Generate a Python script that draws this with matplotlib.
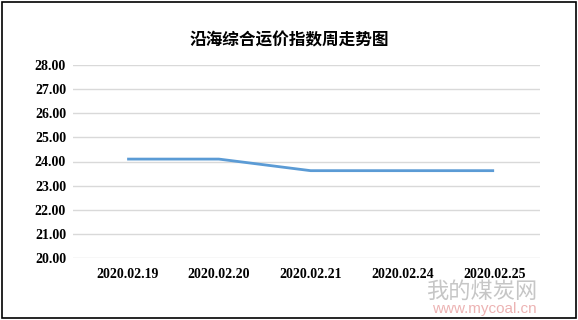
import matplotlib.pyplot as plt
from matplotlib.patches import Rectangle

plt.rcParams['font.family'] = ['Noto Sans CJK SC', 'DejaVu Sans']

dates = ["2020.02.19", "2020.02.20", "2020.02.21", "2020.02.24", "2020.02.25"]
index_values = [24.10, 24.10, 23.62, 23.62, 23.62]
y_ticks = [20, 21, 22, 23, 24, 25, 26, 27, 28]

fig = plt.figure(figsize=(5.78, 3.2), dpi=100)
ax = fig.add_axes([73 / 578, 1 - 258 / 320, (540 - 73) / 578, (258 - 65) / 320])

x = list(range(len(dates)))
ax.plot(x, index_values, color="#5B9BD5", linewidth=2.0, solid_capstyle="butt")

ax.set_xlim(-0.59, 4.5)
ax.set_ylim(20, 28)
ax.set_yticks(y_ticks)
ax.set_yticklabels([f"{v:.2f}" for v in y_ticks], fontsize=10, fontweight="bold",
                   family="Liberation Serif")
ax.set_xticks(x)
ax.set_xticklabels(dates, fontsize=10, fontweight="bold", family="Liberation Serif")
ax.tick_params(axis="both", length=0)
ax.tick_params(axis="y", pad=5)
ax.tick_params(axis="x", pad=7)

ax.grid(axis="y", color="#D9D9D9", linewidth=1.0)
ax.set_axisbelow(True)
for s in ax.spines.values():
    s.set_visible(False)

fig.text(0.5, 1 - 40 / 320, "沿海综合运价指数周走势图", ha="center", va="center",
         fontsize=12, fontweight="bold")

# watermark, nudged just below the date labels
fig.text(482 / 578, 1 - 291 / 320, "我的煤炭网", ha="center", va="center",
         fontsize=16, color="#A0A0A0", alpha=0.6, zorder=0)
fig.text(484 / 578, 1 - 309 / 320, "www.mycoal.cn", ha="center", va="center",
         fontsize=11, color="#E8A0A0", alpha=0.8, family="Liberation Sans", zorder=0)

fig.patches.append(Rectangle((2 / 578, 2 / 320), 1 - 4 / 578, 1 - 4 / 320,
                             transform=fig.transFigure, fill=False,
                             edgecolor="black", linewidth=1.2))

fig.savefig("out.png", dpi=100)
